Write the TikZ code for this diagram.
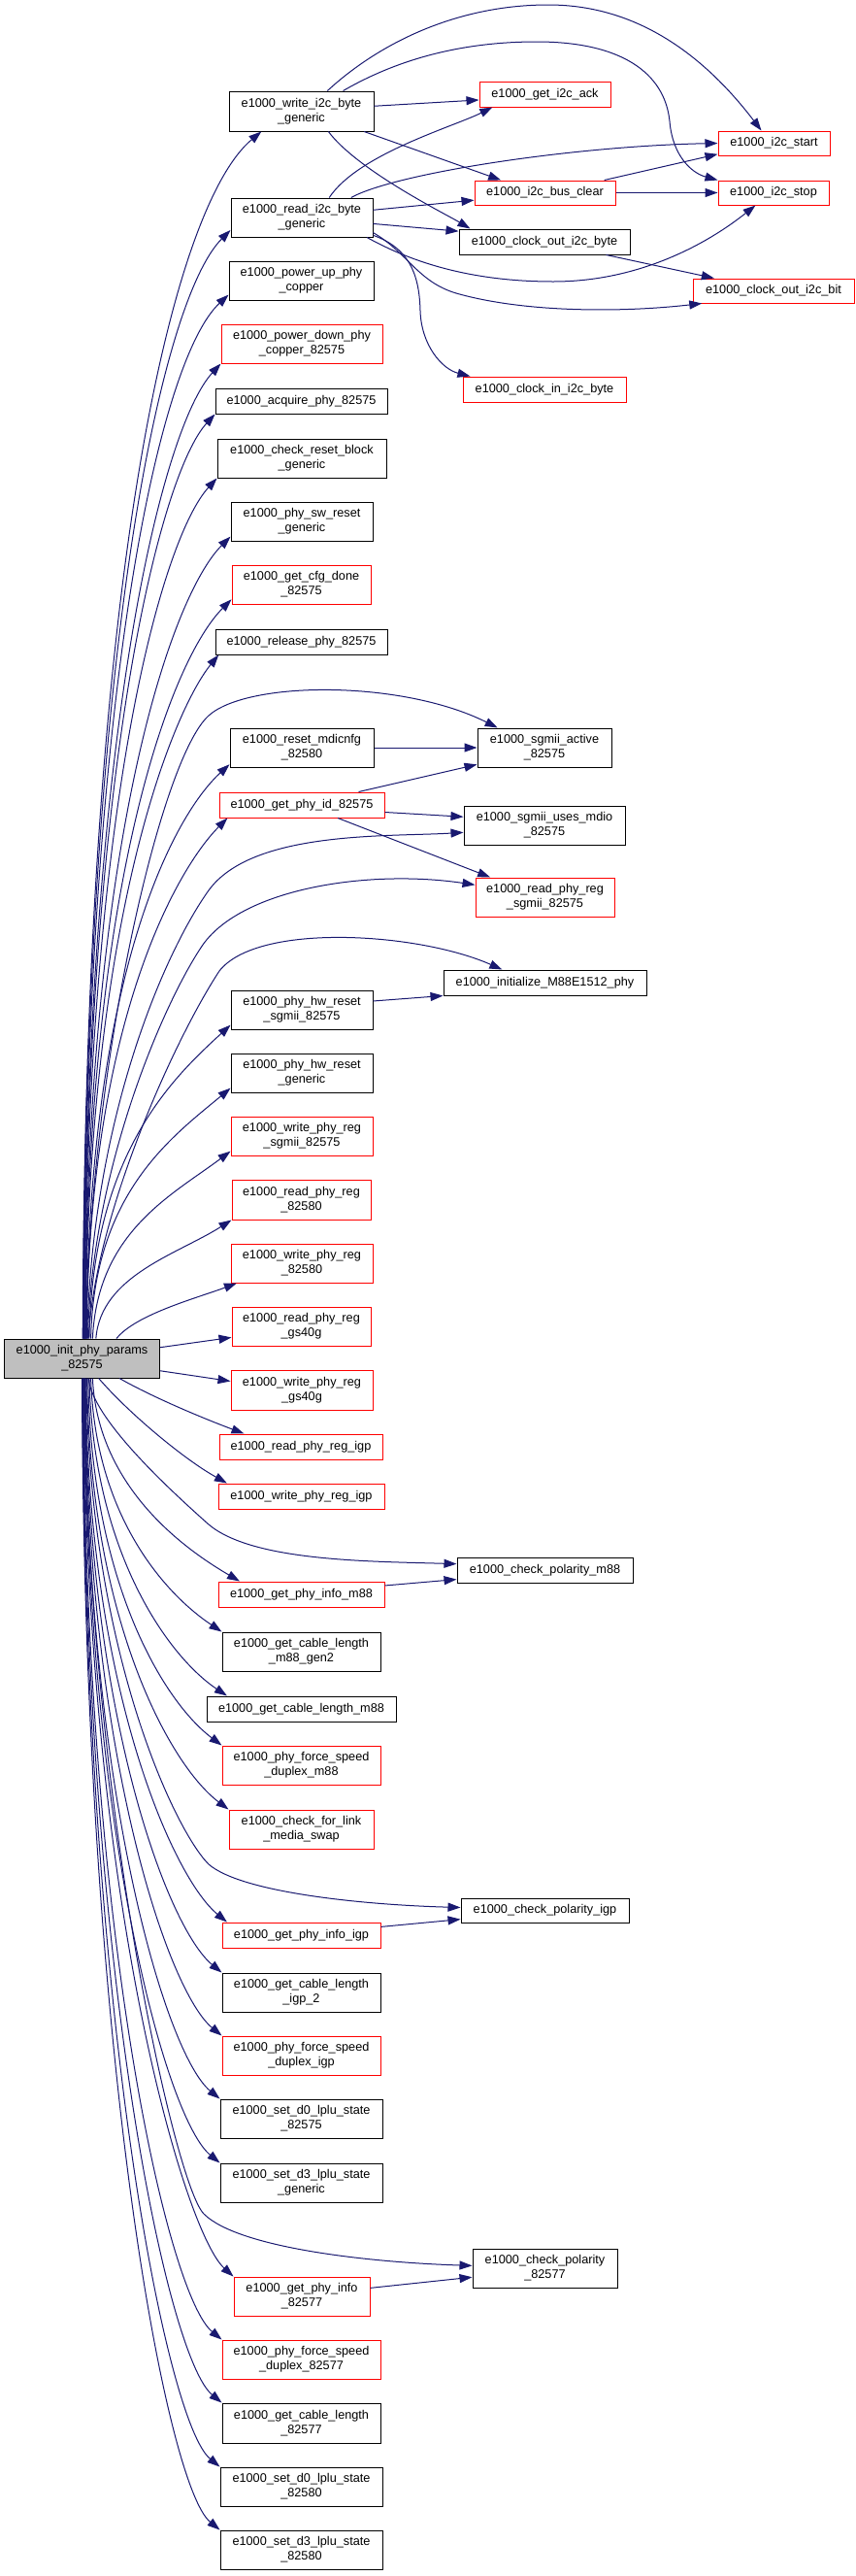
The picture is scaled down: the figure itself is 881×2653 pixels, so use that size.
\documentclass[tikz,border=0pt]{standalone}
\usepackage{fontspec}
\setmainfont{Liberation Sans}
\usetikzlibrary{arrows.meta}
\definecolor{callblue}{HTML}{191970}
\definecolor{rootgray}{HTML}{BFBFBF}
\tikzset{
  fnbox/.style={draw=black, line width=1pt, inner sep=0pt, align=center,
    font=\fontsize{12.7}{15}\selectfont},
  fnred/.style={fnbox, draw=red},
  fnroot/.style={fnbox, fill=rootgray},
  boxsize/.style 2 args={minimum width=#1pt, minimum height=#2pt},
  call/.style={draw=callblue, line width=1pt, -{Triangle[length=13pt,width=9pt]}},
}
\begin{document}
\begin{tikzpicture}[x=1pt,y=-1pt]
\useasboundingbox (0,0) rectangle (881,2653);

\node[fnroot, boxsize={160}{40}] (root) at (84.5,1399) {e1000\_init\_phy\_params\\\_82575};

\node[fnbox, boxsize={149}{41}] (wi2c) at (310.5,114.5) {e1000\_write\_i2c\_byte\\\_generic};
\node[fnbox, boxsize={146}{40}] (ri2c) at (311,224) {e1000\_read\_i2c\_byte\\\_generic};
\node[fnbox, boxsize={149}{40}] (pwrup) at (310.5,289) {e1000\_power\_up\_phy\\\_copper};
\node[fnred, boxsize={166}{40}] (pwrdown) at (311,354) {e1000\_power\_down\_phy\\\_copper\_82575};
\node[fnbox, boxsize={177}{26}] (acquire) at (310.5,413) {e1000\_acquire\_phy\_82575};
\node[fnbox, boxsize={174}{40}] (chkreset) at (311,472) {e1000\_check\_reset\_block\\\_generic};
\node[fnbox, boxsize={146}{40}] (swreset) at (311,537) {e1000\_phy\_sw\_reset\\\_generic};
\node[fnred, boxsize={143}{40}] (cfgdone) at (310.5,602) {e1000\_get\_cfg\_done\\\_82575};
\node[fnbox, boxsize={177}{26}] (release) at (310.5,661) {e1000\_release\_phy\_82575};
\node[fnbox, boxsize={148}{40}] (mdicnfg) at (311,770) {e1000\_reset\_mdicnfg\\\_82580};
\node[fnred, boxsize={170}{26}] (phyid) at (311,829) {e1000\_get\_phy\_id\_82575};
\node[fnbox, boxsize={146}{40}] (hwrsgmii) at (311,1040) {e1000\_phy\_hw\_reset\\\_sgmii\_82575};
\node[fnbox, boxsize={146}{40}] (hwrgen) at (311,1105) {e1000\_phy\_hw\_reset\\\_generic};
\node[fnred, boxsize={146}{40}] (wsgmii) at (311,1170) {e1000\_write\_phy\_reg\\\_sgmii\_82575};
\node[fnred, boxsize={143}{41}] (r82580) at (310.5,1235.5) {e1000\_read\_phy\_reg\\\_82580};
\node[fnred, boxsize={146}{40}] (w82580) at (311,1301) {e1000\_write\_phy\_reg\\\_82580};
\node[fnred, boxsize={143}{40}] (rgs40g) at (310.5,1366) {e1000\_read\_phy\_reg\\\_gs40g};
\node[fnred, boxsize={146}{41}] (wgs40g) at (311,1431.5) {e1000\_write\_phy\_reg\\\_gs40g};
\node[fnred, boxsize={168}{26}] (rigp) at (310,1490) {e1000\_read\_phy\_reg\_igp};
\node[fnred, boxsize={171}{26}] (wigp) at (310.5,1541) {e1000\_write\_phy\_reg\_igp};
\node[fnred, boxsize={171}{26}] (infom88) at (310.5,1642) {e1000\_get\_phy\_info\_m88};
\node[fnbox, boxsize={163}{40}] (cablegen2) at (310.5,1701) {e1000\_get\_cable\_length\\\_m88\_gen2};
\node[fnbox, boxsize={195}{26}] (cablem88) at (310.5,1760) {e1000\_get\_cable\_length\_m88};
\node[fnred, boxsize={163}{40}] (forcem88) at (310.5,1818) {e1000\_phy\_force\_speed\\\_duplex\_m88};
\node[fnred, boxsize={149}{40}] (mediaswap) at (310.5,1884) {e1000\_check\_for\_link\\\_media\_swap};
\node[fnred, boxsize={163}{26}] (infoigp) at (310.5,1993) {e1000\_get\_phy\_info\_igp};
\node[fnbox, boxsize={163}{40}] (cableigp) at (310.5,2052) {e1000\_get\_cable\_length\\\_igp\_2};
\node[fnred, boxsize={163}{40}] (forceigp) at (310.5,2117) {e1000\_phy\_force\_speed\\\_duplex\_igp};
\node[fnbox, boxsize={167}{40}] (d0a) at (310.5,2182) {e1000\_set\_d0\_lplu\_state\\\_82575};
\node[fnbox, boxsize={167}{40}] (d3gen) at (310.5,2248) {e1000\_set\_d3\_lplu\_state\\\_generic};
\node[fnred, boxsize={140}{40}] (info82577) at (311,2365) {e1000\_get\_phy\_info\\\_82577};
\node[fnred, boxsize={163}{40}] (force82577) at (310.5,2430) {e1000\_phy\_force\_speed\\\_duplex\_82577};
\node[fnbox, boxsize={163}{41}] (cable82577) at (310.5,2495.5) {e1000\_get\_cable\_length\\\_82577};
\node[fnbox, boxsize={167}{40}] (d0b) at (310.5,2561) {e1000\_set\_d0\_lplu\_state\\\_82580};
\node[fnbox, boxsize={167}{40}] (d3b) at (310.5,2626) {e1000\_set\_d3\_lplu\_state\\\_82580};

\node[fnred, boxsize={135}{26}] (ack) at (561.5,97) {e1000\_get\_i2c\_ack};
\node[fnred, boxsize={145}{25}] (busclear) at (561.5,198.5) {e1000\_i2c\_bus\_clear};
\node[fnbox, boxsize={176}{26}] (clkoutbyte) at (561,249) {e1000\_clock\_out\_i2c\_byte};
\node[fnred, boxsize={168}{26}] (clkin) at (561,401) {e1000\_clock\_in\_i2c\_byte};
\node[fnbox, boxsize={138}{40}] (sgmiiact) at (561,770) {e1000\_sgmii\_active\\\_82575};
\node[fnbox, boxsize={166}{40}] (mdio) at (561,850) {e1000\_sgmii\_uses\_mdio\\\_82575};
\node[fnred, boxsize={143}{40}] (rsgmii) at (561.5,924) {e1000\_read\_phy\_reg\\\_sgmii\_82575};
\node[fnbox, boxsize={209}{26}] (m88e1512) at (561.5,1012) {e1000\_initialize\_M88E1512\_phy};
\node[fnbox, boxsize={181}{26}] (polm88) at (561.5,1617) {e1000\_check\_polarity\_m88};
\node[fnbox, boxsize={173}{25}] (poligp) at (561.5,1967.5) {e1000\_check\_polarity\_igp};
\node[fnbox, boxsize={149}{40}] (pol82577) at (561.5,2336) {e1000\_check\_polarity\\\_82577};

\node[fnred, boxsize={115}{25}] (i2cstart) at (797.5,147.5) {e1000\_i2c\_start};
\node[fnred, boxsize={114}{25}] (i2cstop) at (797,198.5) {e1000\_i2c\_stop};
\node[fnred, boxsize={166}{25}] (clkoutbit) at (797,299.5) {e1000\_clock\_out\_i2c\_bit};

\draw[call] (root.88) .. controls +(2,-800) and +(-90,75) .. (wi2c.207);
\draw[call] (root.87) .. controls +(2,-720) and +(-70,70) .. (ri2c.190);
\draw[call] (root.86) .. controls +(2,-680) and +(-70,65) .. (pwrup.191);
\draw[call] (root.85) .. controls +(2,-630) and +(-60,65) .. (pwrdown.south west);
\draw[call] (root.84) .. controls +(2,-600) and +(-55,60) .. (acquire.south west);
\draw[call] (root.83) .. controls +(2,-560) and +(-55,60) .. (chkreset.south west);
\draw[call] (root.82) .. controls +(2,-520) and +(-60,60) .. (swreset.192);
\draw[call] (root.81) .. controls +(2,-480) and +(-60,60) .. (cfgdone.192);
\draw[call] (root.80) .. controls +(2,-440) and +(-45,55) .. (release.189);
\draw[call] (root.78) .. controls +(2,-370) and +(-60,55) .. (mdicnfg.193);
\draw[call] (root.77) .. controls +(2,-330) and +(-50,50) .. (phyid.190);
\draw[call] (root.70) .. controls +(3,-190) and +(-60,55) .. (hwrsgmii.192);
\draw[call] (root.66) .. controls +(3,-150) and +(-60,50) .. (hwrgen.192);
\draw[call] (root.62) .. controls +(5,-110) and +(-60,45) .. (wsgmii.192);
\draw[call] (root.55) .. controls +(5,-65) and +(-55,35) .. (r82580.south west);
\draw[call] (root.30) .. controls +(20,-25) and +(-40,15) .. (w82580.197);
\draw[call] (root.8) -- (rgs40g.189);
\draw[call] (root.-9) -- (wgs40g.173);

\draw[call] (root.79) .. controls (92,1100) and (165,782) .. (215,737) .. controls (255,701) and (414,700) .. (sgmiiact.157);
\draw[call] (root.76) .. controls (95,1150) and (170,980) .. (215,917) .. controls (260,855) and (400,862) .. (mdio.185);
\draw[call] (root.74) .. controls (95,1200) and (170,1030) .. (209,973) .. controls (250,915) and (380,895) .. (rsgmii.170);
\draw[call] (root.72) .. controls (98,1250) and (180,1070) .. (226,1000) .. controls (265,950) and (430,960) .. (m88e1512.163);

\draw[call] (wi2c.4) -- (ack.185);
\draw[call] (wi2c.-18) -- (busclear.164);
\draw[call] (wi2c.-37) .. controls +(30,40) and +(-25,-15) .. (clkoutbyte.170);
\draw[call] (wi2c.38) .. controls (390,45) and (470,5) .. (565,5) .. controls (650,5) and (720,50) .. (i2cstart.135);
\draw[call] (wi2c.26) .. controls (420,55) and (490,43) .. (553,43) .. controls (640,43) and (685,75) .. (690,125) .. controls (693,160) and (712,178) .. (i2cstop.north west);
\draw[call] (ri2c.36) .. controls +(30,-45) and +(-40,20) .. (ack.194);
\draw[call] (ri2c.22) .. controls +(45,-25) and +(-150,3) .. (i2cstart.west);
\draw[call] (ri2c.6) -- (busclear.186);
\draw[call] (ri2c.-5) -- (clkoutbyte.173);
\draw[call] (ri2c.-17) .. controls (410,262) and (470,290) .. (570,290) .. controls (660,290) and (730,250) .. (i2cstop.215);
\draw[call] (ri2c.-12) .. controls (420,260) and (430,290) .. (470,302) .. controls (540,322) and (640,322) .. (clkoutbit.190);
\draw[call] (ri2c.-14) .. controls (420,255) and (432,280) .. (433,320) .. controls (434,355) and (455,380) .. (clkin.170);
\draw[call] (busclear.12) -- (i2cstart.191);
\draw[call] (busclear.east) -- (i2cstop.west);
\draw[call] (clkoutbyte.-12) -- (clkoutbit.168);

\draw[call] (mdicnfg.east) -- (sgmiiact.west);
\draw[call] (phyid.13) -- (sgmiiact.194);
\draw[call] (phyid.-5) -- (mdio.174);
\draw[call] (phyid.-20) -- (rsgmii.160);
\draw[call] (hwrsgmii.7) -- (m88e1512.south west);

\draw[call] (root.-28) .. controls +(35,20) and +(-40,-15) .. (rigp.167);
\draw[call] (root.-50) .. controls +(30,35) and +(-45,-25) .. (wigp.170);
\draw[call] (root.-72) .. controls (95,1460) and (170,1530) .. (215,1570) .. controls (260,1608) and (380,1608) .. (polm88.176);
\draw[call] (root.-62) .. controls +(5,110) and +(-60,-35) .. (infom88.168);
\draw[call] (root.-66) .. controls +(4,140) and +(-60,-40) .. (cablegen2.north west);
\draw[call] (root.-70) .. controls +(4,180) and +(-60,-40) .. (cablem88.170);
\draw[call] (root.-73) .. controls +(3,210) and +(-60,-45) .. (forcem88.north west);
\draw[call] (root.-76) .. controls +(3,250) and +(-60,-45) .. (mediaswap.north west);
\draw[call] (root.-78) .. controls (92,1700) and (180,1885) .. (215,1920) .. controls (250,1950) and (380,1962) .. (poligp.178);
\draw[call] (root.-80) .. controls +(2,320) and +(-55,-45) .. (infoigp.170);
\draw[call] (root.-81) .. controls +(2,350) and +(-55,-45) .. (cableigp.north west);
\draw[call] (root.-82) .. controls +(2,390) and +(-55,-45) .. (forceigp.north west);
\draw[call] (root.-83) .. controls +(2,430) and +(-55,-45) .. (d0a.north west);
\draw[call] (root.-84) .. controls +(2,470) and +(-55,-45) .. (d3gen.north west);
\draw[call] (root.-85) .. controls (90,1850) and (180,2250) .. (210,2280) .. controls (245,2315) and (380,2330) .. (pol82577.178);
\draw[call] (root.-86) .. controls +(2,540) and +(-50,-45) .. (info82577.north west);
\draw[call] (root.-87) .. controls +(2,580) and +(-55,-45) .. (force82577.north west);
\draw[call] (root.-88) .. controls +(2,620) and +(-55,-45) .. (cable82577.north west);
\draw[call] (root.-89) .. controls +(2,660) and +(-55,-45) .. (d0b.north west);
\draw[call] (root.-90) .. controls +(2,700) and +(-55,-45) .. (d3b.north west);

\draw[call] (infom88.6) -- (polm88.186);
\draw[call] (infoigp.6) -- (poligp.186);
\draw[call] (info82577.7) -- (pol82577.187);
\end{tikzpicture}
\end{document}
